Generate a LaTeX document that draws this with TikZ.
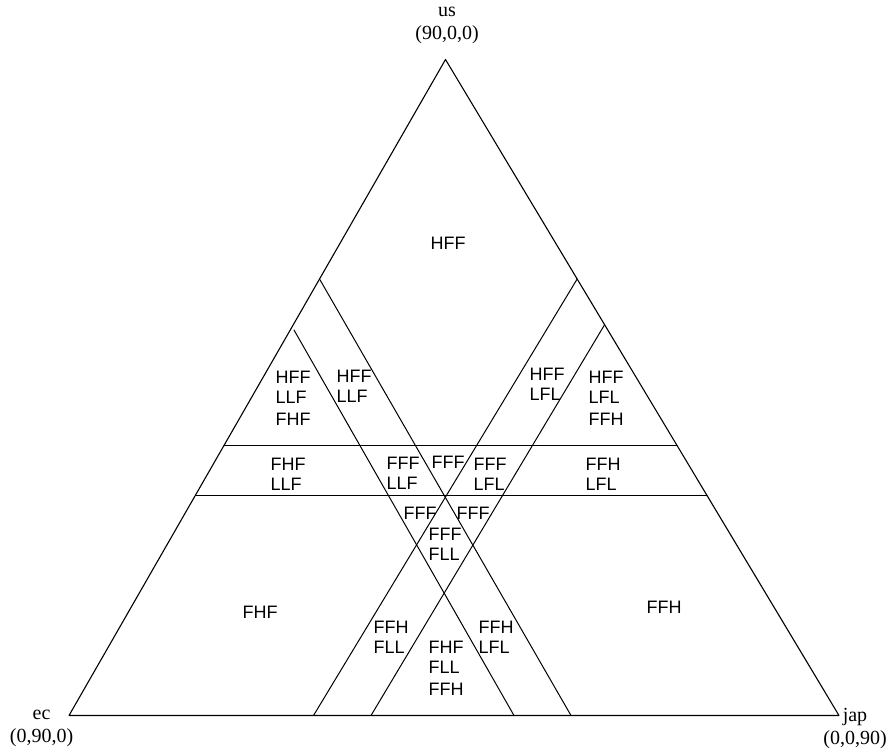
\documentclass[tikz,border=0pt]{standalone}
\usepackage{fontspec}
\setmainfont{Liberation Serif}
\setsansfont{Liberation Sans}
\usepackage{tikz}
\usetikzlibrary{calc}
\tikzset{
  every picture/.style={line cap=round, line join=round},
  side/.style={draw=black, line width=0.55pt},
  cut/.style={draw=black, line width=0.5pt},
  reg/.style={font=\sffamily\fontsize{9}{10}\selectfont, align=left, inner sep=0pt},
  vlab/.style={font=\fontsize{10}{11.5}\selectfont, align=center, inner sep=0pt}
}

\begin{document}
\begin{tikzpicture}[x=0.5pt, y=-0.5pt]
  \useasboundingbox (0,0) rectangle (892,751);

  % corners of the simplex
  \coordinate (us) at (445.5,59.5);
  \coordinate (ec) at (69,715.5);
  \coordinate (jap) at (839,715.5);

  \draw[side] (us)--(ec)--(jap)--cycle;

  % horizontal cuts (constant us)
  \coordinate (u1l) at ($(us)!0.5877!(ec)$);
  \coordinate (u1r) at ($(us)!0.5877!(jap)$);
  \coordinate (u2l) at ($(us)!0.6639!(ec)$);
  \coordinate (u2r) at ($(us)!0.6639!(jap)$);
  \draw[cut] (u1l) -- (u1r);
  \draw[cut] (u2l) -- (u2r);

  % cuts falling to the right
  \coordinate (e1t) at ($(us)!0.3346!(ec)$);
  \coordinate (e1b) at (571,715.5);
  \coordinate (e2t) at (294,330);
  \coordinate (e2b) at (514,715.5);
  \draw[cut] (e1t) -- (e1b);
  \draw[cut] (e2t) -- (e2b);

  % cuts rising to the right
  \coordinate (j1t) at ($(us)!0.3346!(jap)$);
  \coordinate (j1b) at (313.5,715.5);
  \coordinate (j2t) at ($(us)!0.4043!(jap)$);
  \coordinate (j2b) at (371,715.5);
  \draw[cut] (j1t) -- (j1b);
  \draw[cut] (j2t) -- (j2b);

  % corner labels
  \node[vlab] (usl) at (447,25) {us\\(90,0,0)};
  \node[vlab] (ecl) at (41.5,728) {ec\\(0,90,0)};
  \node[vlab] (japl) at (855,728) {jap\\(0,0,90)};

  % upper regions
  \node[reg] (rtop) at (448,243) {HFF};
  \node[reg] (rl1) at (293,398) {HFF\\LLF\\[1pt]FHF};
  \node[reg] (rl2) at (354,386) {HFF\\LLF};
  \node[reg] (rr2) at (547,384) {HFF\\LFL};
  \node[reg] (rr1) at (606,398) {HFF\\LFL\\[1pt]FFH};

  % middle band
  \node[reg] (bl) at (288,474) {FHF\\LLF};
  \node[reg] (bml) at (403,473) {FFF\\LLF};
  \node[reg] (bm) at (448,462) {FFF};
  \node[reg] (bmr) at (490,474) {FFF\\LFL};
  \node[reg] (br) at (603,474) {FFH\\LFL};

  % lower regions
  \node[reg] (cl) at (420,513) {FFF};
  \node[reg] (cr) at (473,513) {FFF};
  \node[reg] (cm) at (445,544.5) {FFF\\FLL};
  \node[reg] (dl) at (391,637) {FFH\\FLL};
  \node[reg] (dm) at (446,668) {FHF\\FLL\\[1pt]FFH};
  \node[reg] (dr) at (496,637) {FFH\\LFL};
  \node[reg] (lowl) at (260,612) {FHF};
  \node[reg] (lowr) at (664,607) {FFH};
\end{tikzpicture}
\end{document}
